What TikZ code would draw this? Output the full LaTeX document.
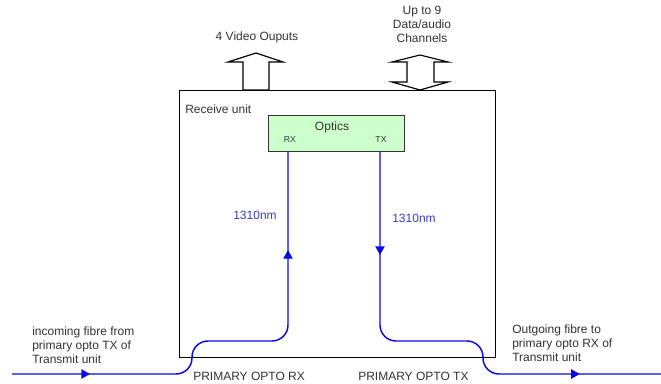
\documentclass[tikz,border=0pt]{standalone}
\usepackage{fontspec}
\setmainfont{Liberation Sans}
\usetikzlibrary{arrows.meta,decorations.markings}
\definecolor{fibreblue}{RGB}{10,10,230}
\definecolor{waveblue}{RGB}{60,60,200}
\definecolor{opticsgreen}{RGB}{204,255,204}
\begin{document}
\begin{tikzpicture}[x=0.75pt, y=-0.75pt, every node/.style={font=\fontsize{9}{10.4}\selectfont, text=black!80, inner sep=0pt},
  unit/.style={draw=black, line width=0.8pt, minimum width=237pt, minimum height=200pt, anchor=north west},
  optics/.style={draw=black!80, fill=opticsgreen, line width=1.1pt, minimum width=102pt, minimum height=27pt, anchor=north west},
  bigarrow/.style={draw=black, fill=white, line width=0.9pt, line join=miter},
  fibre/.style={draw=fibreblue, line width=1.1pt, rounded corners=12pt},
  wave/.style={text=waveblue}]
\useasboundingbox[fill=white] (0,0) rectangle (661,383);
% receive unit and optics
\node[unit] (unit) at (179,90) {};
\node[optics] (optics) at (268,115) {};
\node (opticslabel) at (332,127) {Optics};
\node[font=\fontsize{6.5}{7}\selectfont] (rxlabel) at (290,140) {RX};
\node[font=\fontsize{6.5}{7}\selectfont] (txlabel) at (381,140) {TX};
\node[anchor=west] (unitlabel) at (185,109) {Receive unit};
% outputs on top
\draw[bigarrow] (243,90) -- (243,62) -- (228,62) -- (256,53) -- (283,62) -- (269,62) -- (269,90) -- cycle;
\draw[bigarrow] (420,55) -- (448,62) -- (434,62) -- (434,82) -- (448,82) -- (420,90)
  -- (392,82) -- (407,82) -- (407,62) -- (392,62) -- cycle;
\node (videolabel) at (257,37) {4 Video Ouputs};
\node[align=center] (datalabel) at (422,24.5) {Up to 9\\Data/audio\\Channels};
% fibres
\coordinate (rxport) at (288,151);
\coordinate (txport) at (380,151);
\coordinate (fibrein) at (12,374);
\coordinate (fibreout) at (661,374);
\draw[fibre, postaction={decorate, decoration={markings,
    mark=at position 0.163 with {\arrow{Triangle[length=6.5pt,width=7pt]}},
    mark=at position 0.793 with {\arrow{Triangle[length=6.5pt,width=7pt]}}}}]
  (fibrein) -- (192,374) -- (192,341) -- (288,341) -- (rxport);
\draw[fibre, postaction={decorate, decoration={markings,
    mark=at position 0.215 with {\arrow{Triangle[length=6.5pt,width=7pt]}},
    mark=at position 0.832 with {\arrow{Triangle[length=6.5pt,width=7pt]}}}}]
  (txport) -- (380,341) -- (483,341) -- (483,374) -- (fibreout);
\node[wave] (rxwave) at (255,215) {1310nm};
\node[wave] (txwave) at (414,218) {1310nm};
% fibre labels
\node[align=left, anchor=west] (inlabel) at (32,345) {incoming fibre from\\primary opto TX of\\Transmit unit};
\node[align=left, anchor=west] (outlabel) at (512,343) {Outgoing fibre to\\primary opto RX of\\Transmit unit};
\node[anchor=west] (rxport label) at (193,376.5) {PRIMARY OPTO RX};
\node[anchor=west] (txport label) at (358,376.5) {PRIMARY OPTO TX};
\end{tikzpicture}
\end{document}
